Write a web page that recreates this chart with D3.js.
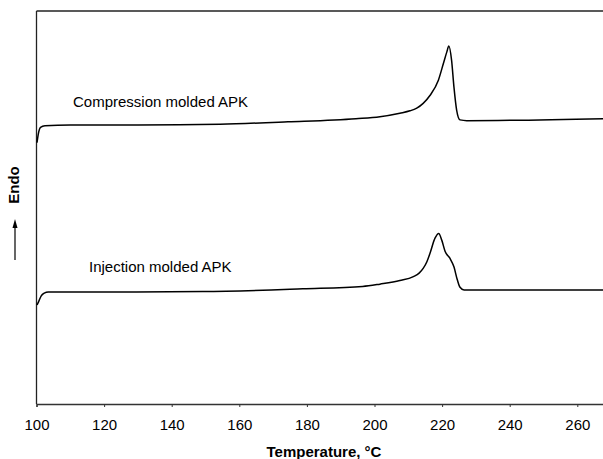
<!DOCTYPE html>
<html>
<head>
<meta charset="utf-8">
<script src="https://cdn.jsdelivr.net/npm/d3@7"></script>
<style>
  body { margin: 0; background: #fff; }
  svg { display: block; font-family: "Liberation Sans", Arial, sans-serif; }
</style>
</head>
<body>
<div id="chart"></div>
<script>
// DSC traces, temperature (°C) and heat flow (arbitrary units, endo up)
const compressionTemp = [100.15, 100.6, 101.2, 102.5, 110, 130, 154.3, 174.4, 194.5, 201.6, 207.5, 210.5, 212.5,
    214.4, 216.4, 218.9, 220.4, 221.4, 222.0, 222.8, 223.5, 224.3, 225.3, 227.3, 268];
const compressionFlow = [6.65, 6.90, 7.04, 7.08, 7.10, 7.10, 7.12, 7.18, 7.26, 7.31, 7.40, 7.46, 7.53,
    7.65, 7.85, 8.24, 8.67, 8.96, 9.11, 8.75, 8.07, 7.48, 7.23, 7.21, 7.26];

const injectionTemp = [100.15, 100.6, 101.4, 102.3, 103.5, 120, 149.2, 178.8, 196.5, 201.6, 207.5, 211.5,
    213.2, 214.4, 215.5, 216.4, 217.9, 219.0, 219.9, 220.9, 222.3, 223.5, 224.5, 225.3, 226.5, 268];
const injectionFlow = [2.52, 2.60, 2.75, 2.82, 2.85, 2.85, 2.86, 2.93, 2.99, 3.05, 3.14, 3.24,
    3.33, 3.45, 3.62, 3.83, 4.22, 4.34, 4.17, 3.88, 3.71, 3.49, 3.16, 2.97, 2.90, 2.90];

const seriesLabels = ["Compression molded APK", "Injection molded APK"];
const xTicks = [100, 120, 140, 160, 180, 200, 220, 240, 260];

const width = 603, height = 459;
const margin = { top: 11, left: 36.5, bottom: 55 };

const svg = d3.select("#chart").append("svg")
    .attr("width", width)
    .attr("height", height);

const x = d3.scaleLinear()
    .domain([100, 270])
    .range([margin.left, margin.left + 170 * 3.38]);

const y = d3.scaleLinear()
    .domain([0, 10])
    .range([height - margin.bottom, margin.top]);

// frame: top and left lines
svg.append("line")
    .attr("x1", x(100)).attr("x2", x(270))
    .attr("y1", y(10)).attr("y2", y(10))
    .attr("stroke", "#222").attr("stroke-width", 1.3);
svg.append("line")
    .attr("x1", x(100)).attr("x2", x(100))
    .attr("y1", y(10)).attr("y2", y(0))
    .attr("stroke", "#222").attr("stroke-width", 1.3);

// bottom axis
const xAxis = d3.axisBottom(x)
    .tickValues(xTicks)
    .tickSize(3)
    .tickPadding(12);

const xAxisG = svg.append("g")
    .attr("transform", `translate(0,${y(0)})`)
    .call(xAxis);
xAxisG.select(".domain").attr("stroke", "#333").attr("stroke-width", 1.3);
xAxisG.selectAll(".tick line").attr("stroke", "#333");
xAxisG.selectAll(".tick text")
    .attr("fill", "#000")
    .style("font-size", "15px")
    .style("font-family", "'Liberation Sans', Arial, sans-serif");

// axis titles
svg.append("text")
    .attr("x", 324)
    .attr("y", 457)
    .attr("text-anchor", "middle")
    .style("font-size", "15px")
    .style("font-weight", "bold")
    .text("Temperature, °C");

svg.append("text")
    .attr("transform", "translate(19,185) rotate(-90)")
    .attr("text-anchor", "middle")
    .style("font-size", "15px")
    .style("font-weight", "bold")
    .text("Endo");

// endo arrow
svg.append("line")
    .attr("x1", 15).attr("x2", 15)
    .attr("y1", 260).attr("y2", 226)
    .attr("stroke", "#000").attr("stroke-width", 1.2);
svg.append("path")
    .attr("d", "M15,219 L12.5,228 L17.5,228 Z")
    .attr("fill", "#000");

// curves
const line = d3.line()
    .x(d => x(d[0]))
    .y(d => y(d[1]))
    .curve(d3.curveMonotoneX);

const series = [
    d3.zip(compressionTemp, compressionFlow),
    d3.zip(injectionTemp, injectionFlow)
];

svg.selectAll(".trace")
    .data(series)
    .join("path")
    .attr("class", "trace")
    .attr("fill", "none")
    .attr("stroke", "#000")
    .attr("stroke-width", 1.5)
    .attr("d", line);

// series labels
const labelPos = [[73, 106.7], [89, 271.7]];
svg.selectAll(".series-label")
    .data(seriesLabels)
    .join("text")
    .attr("class", "series-label")
    .attr("x", (d, i) => labelPos[i][0])
    .attr("y", (d, i) => labelPos[i][1])
    .style("font-size", "15px")
    .text(d => d);
</script>
</body>
</html>
